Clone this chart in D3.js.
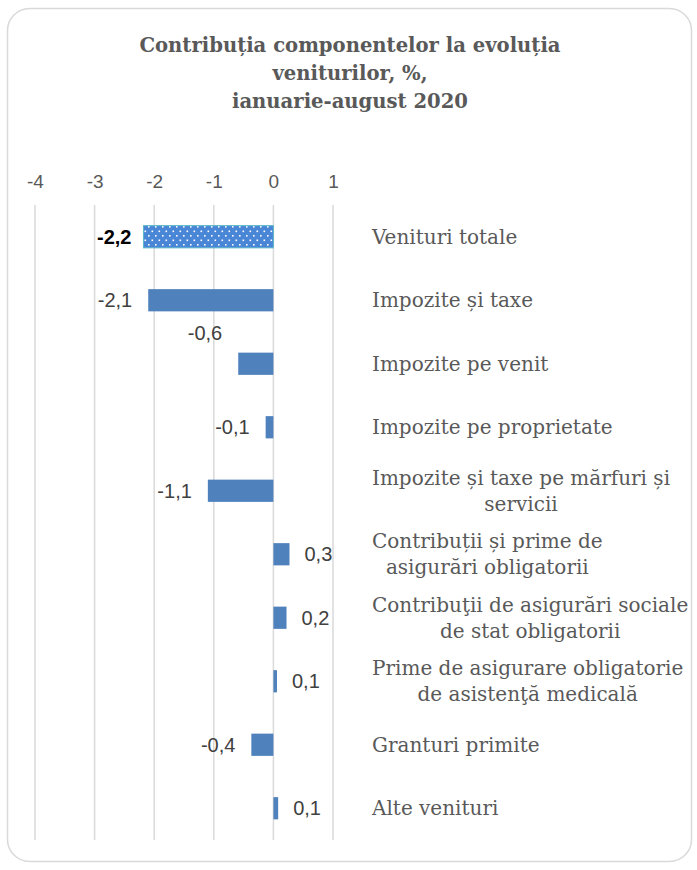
<!DOCTYPE html>
<html>
<head>
<meta charset="utf-8">
<script src="https://cdn.jsdelivr.net/npm/d3@7"></script>
<style>
  body { margin: 0; background: #fff; }
  svg { display: block; }
</style>
</head>
<body>
<div id="chart"></div>
<script>
// categories top-to-bottom, each one an array of label lines
const categories = [
    ["Venituri totale"],
    ["Impozite și taxe"],
    ["Impozite pe venit"],
    ["Impozite pe proprietate"],
    ["Impozite și taxe pe mărfuri și", "servicii"],
    ["Contribuții și prime de", "asigurări obligatorii"],
    ["Contribuţii de asigurări sociale", "de stat obligatorii"],
    ["Prime de asigurare obligatorie", "de asistenţă medicală"],
    ["Granturi primite"],
    ["Alte venituri"]
];
// contribution, percentage points
const values = [-2.18, -2.1, -0.59, -0.13, -1.1, 0.27, 0.22, 0.06, -0.37, 0.08];
// printed labels as on the chart
const valueLabels = ["-2,2", "-2,1", "-0,6", "-0,1", "-1,1", "0,3", "0,2", "0,1", "-0,4", "0,1"];
const tickValues = [-4, -3, -2, -1, 0, 1];
const titleLines = ["Contribuția componentelor la evoluția", "veniturilor, %,", "ianuarie-august 2020"];

const width = 697, height = 870;
const sans = "'Liberation Sans', sans-serif";
const serif = "'DejaVu Serif', serif";

const svg = d3.select("#chart").append("svg")
    .attr("width", width)
    .attr("height", height);

// pattern for the total bar
const defs = svg.append("defs");
const pat = defs.append("pattern")
    .attr("id", "dots")
    .attr("patternUnits", "userSpaceOnUse")
    .attr("width", 7)
    .attr("height", 9);
pat.append("rect").attr("width", 7).attr("height", 9).attr("fill", "#4a86d6");
pat.append("rect").attr("x", 1).attr("y", 1).attr("width", 1.6).attr("height", 1.6).attr("fill", "#fff");
pat.append("rect").attr("x", 4.5).attr("y", 5.5).attr("width", 1.6).attr("height", 1.6).attr("fill", "#fff");

// card frame
svg.append("rect")
    .attr("x", 7.5).attr("y", 8.5)
    .attr("width", 684).attr("height", 853)
    .attr("rx", 22)
    .attr("fill", "#fff")
    .attr("stroke", "#d9d9d9")
    .attr("stroke-width", 1.5);

// title
svg.append("text")
    .attr("x", 350)
    .attr("y", 52)
    .attr("text-anchor", "middle")
    .style("font", `bold 19.6px ${serif}`)
    .attr("fill", "#595959")
    .selectAll("tspan")
    .data(titleLines)
    .join("tspan")
    .attr("x", 350)
    .attr("dy", (d, i) => i === 0 ? 0 : 28)
    .text(d => d);

const x = d3.scaleLinear().domain([-4, 1]).range([35, 333]);
const y = d3.scaleBand()
    .domain(d3.range(categories.length))
    .range([205, 840])
    .paddingInner(0.65)
    .paddingOuter(0.325);

// grid
svg.append("g")
    .selectAll("line")
    .data(tickValues)
    .join("line")
    .attr("x1", d => x(d)).attr("x2", d => x(d))
    .attr("y1", 205).attr("y2", 840)
    .attr("stroke", "#d9d9d9")
    .attr("stroke-width", 1.5);

// top axis labels
const axis = svg.append("g")
    .attr("transform", "translate(0,188)")
    .call(d3.axisTop(x).tickValues(tickValues).tickSize(0).tickPadding(0).tickFormat(d => String(d)));
axis.select(".domain").remove();
axis.selectAll("text")
    .style("font", `19px ${sans}`)
    .attr("fill", "#595959");

// bars
svg.append("g")
    .selectAll("rect")
    .data(values)
    .join("rect")
    .attr("x", d => x(Math.min(0, d)))
    .attr("y", (d, i) => y(i))
    .attr("width", d => Math.abs(x(d) - x(0)))
    .attr("height", y.bandwidth())
    .attr("fill", (d, i) => i === 0 ? "url(#dots)" : "#4f81bd")
    .attr("stroke", (d, i) => i === 0 ? "#5bb8c8" : "none")
    .attr("stroke-width", 1);

// value labels (the -0,6 one sits above its bar, as in the original)
svg.append("g")
    .selectAll("text")
    .data(values)
    .join("text")
    .attr("x", (d, i) => i === 0 ? x(d) - 12 : (d < 0 ? x(d) - 16 : x(d) + 15))
    .attr("y", (d, i) => i === 2 ? y(i) - 20 : y(i) + y.bandwidth() / 2)
    .attr("dy", "0.35em")
    .attr("text-anchor", d => d < 0 ? "end" : "start")
    .style("font", (d, i) => `${i === 0 ? "bold " : ""}20px ${sans}`)
    .attr("fill", (d, i) => i === 0 ? "#000" : "#404040")
    .text((d, i) => valueLabels[i]);

// category labels: block starts at x=372, lines centred within the block
const lineH = 26;
const cat = svg.append("g")
    .selectAll("g")
    .data(categories)
    .join("g");

cat.each(function (lines, i) {
    const g = d3.select(this);
    const cy = y(i) + y.bandwidth() / 2;
    const texts = g.selectAll("text")
        .data(lines)
        .join("text")
        .attr("y", (d, j) => cy + (j - (lines.length - 1) / 2) * lineH)
        .attr("dy", "0.35em")
        .attr("text-anchor", "middle")
        .style("font", `20px ${serif}`)
        .attr("fill", "#595959")
        .text(d => d);
    const w = d3.max(texts.nodes(), n => n.getComputedTextLength());
    texts.attr("x", 372 + w / 2);
});
</script>
</body>
</html>
